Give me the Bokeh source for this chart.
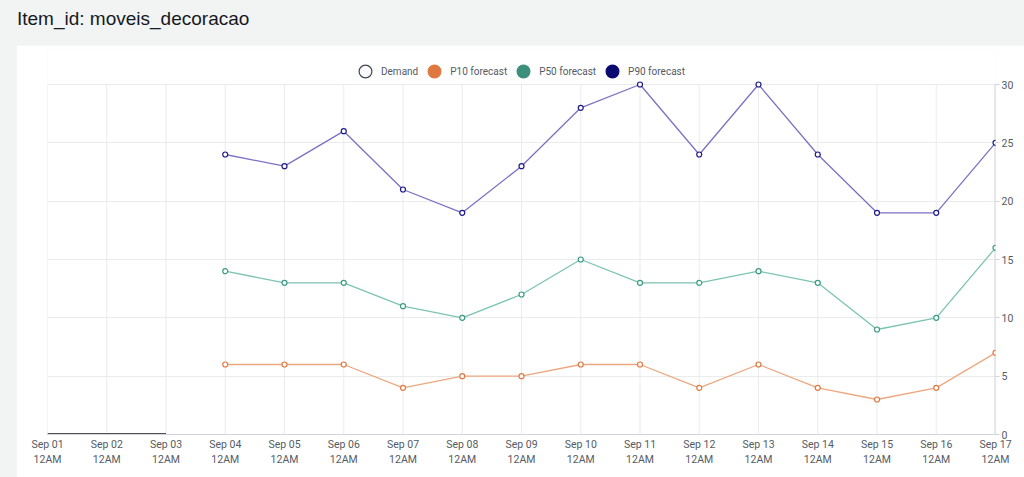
from bokeh.plotting import figure
from bokeh.models import Range1d, FixedTicker, Legend, LegendItem, Div, Spacer
from bokeh.layouts import column, row
from bokeh.embed import file_html
from bokeh.resources import INLINE

# ---- data ----
dates = ["Sep 01", "Sep 02", "Sep 03", "Sep 04", "Sep 05", "Sep 06", "Sep 07", "Sep 08",
         "Sep 09", "Sep 10", "Sep 11", "Sep 12", "Sep 13", "Sep 14", "Sep 15", "Sep 16", "Sep 17"]
time_label = "12AM"
demand_days = [0, 1, 2]
demand = [0, 0, 0]
forecast_days = list(range(3, 17))
p10 = [6, 6, 6, 4, 5, 5, 6, 6, 4, 6, 4, 3, 4, 7]
p50 = [14, 13, 13, 11, 10, 12, 15, 13, 13, 14, 13, 9, 10, 16]
p90 = [24, 23, 26, 21, 19, 23, 28, 30, 24, 30, 24, 19, 19, 25]
y_ticks = [0, 5, 10, 15, 20, 25, 30]
title_text = "Item_id: moveis_decoracao"

FONT = "Roboto"
TXT = "#545b64"
GRID = "#e9ebed"
AXIS = "#d1d5db"

day_idx = list(range(len(dates)))
y_top = max(y_ticks)

# y range runs a little above the top tick to leave room for the legend inside the frame
p = figure(width=1008, height=432, output_backend="svg", toolbar_location=None,
           x_range=Range1d(0, len(dates) - 1), y_range=Range1d(0, 33),
           y_axis_location="right", min_border_left=31, min_border_right=29,
           min_border_top=4, min_border_bottom=43, outline_line_color=None,
           border_fill_color="white", background_fill_color="white")

# grids: horizontal grid from the axis ticker, vertical grid only up to the top tick
p.xaxis.ticker = FixedTicker(ticks=day_idx)
p.yaxis.ticker = FixedTicker(ticks=y_ticks)
p.xgrid.grid_line_color = None
p.ygrid.grid_line_color = GRID
p.segment(x0=day_idx, y0=[0] * len(day_idx), x1=day_idx, y1=[y_top] * len(day_idx),
          line_color=GRID, line_width=1)
p.segment(x0=[day_idx[-1]], y0=[0], x1=[day_idx[-1]], y1=[y_top],
          line_color=AXIS, line_width=2)

# axes
p.xaxis.major_label_overrides = {i: f"{d}\n{time_label}" for i, d in enumerate(dates)}
for ax in (p.xaxis, p.yaxis):
    ax.major_tick_line_color = AXIS
    ax.minor_tick_line_color = None
    ax.major_label_text_font = FONT
    ax.major_label_text_font_size = "10.5px"
    ax.major_label_text_color = TXT
p.xaxis.axis_line_color = AXIS
p.yaxis.axis_line_color = None
p.xaxis.major_tick_out = 0
p.xaxis.major_tick_in = 0
p.xaxis.major_label_standoff = 3
p.yaxis.major_tick_out = 4
p.yaxis.major_tick_in = 0
p.yaxis.major_label_standoff = 2

# series
series = [
    (p90, "#7b72c6", "#1f1a8a"),
    (p50, "#7cc4b2", "#3b9a85"),
    (p10, "#eda77f", "#e07941"),
]
for vals, lc, mc in series:
    p.line(forecast_days, vals, line_color=lc, line_width=1.3)
    p.scatter(forecast_days, vals, size=5, marker="circle", fill_color="white",
              line_color=mc, line_width=1.2)

p.line(demand_days, demand, line_color="#16191f", line_width=2.5)

# legend (swatch renderers with no drawable point)
leg_defs = [
    ("Demand", "#fafafa", "#414750"),
    ("P10 forecast", "#e07941", "#e07941"),
    ("P50 forecast", "#3b8f7b", "#3b8f7b"),
    ("P90 forecast", "#0b0a72", "#0b0a72"),
]
nan = float("nan")
items = []
for label, fc, lc in leg_defs:
    r = p.scatter([nan], [nan], marker="circle", fill_color=fc, line_color=lc, line_width=1.2)
    items.append(LegendItem(label=label, renderers=[r]))
legend = Legend(items=items, orientation="horizontal", location=(302, 347),
                glyph_width=32, glyph_height=32, label_standoff=-1, spacing=-11,
                padding=0, margin=0, border_line_color=None, background_fill_alpha=0,
                label_text_font=FONT, label_text_font_size="10px", label_text_color=TXT)
p.add_layout(legend, "center")

title = Div(text=f'<div style="font-family:\'Liberation Sans\';font-size:19px;line-height:20px;'
                 f'color:#16191f;padding:9px 0 0 17px;">{title_text}</div>',
            width=1024, height=45, margin=0, styles={"background-color": "#f2f3f3"})

layout = column(title, row(Spacer(width=16, height=432, margin=0), p),
                styles={"background-color": "#f2f3f3"})

open("out.html", "w").write(file_html(layout, INLINE))
